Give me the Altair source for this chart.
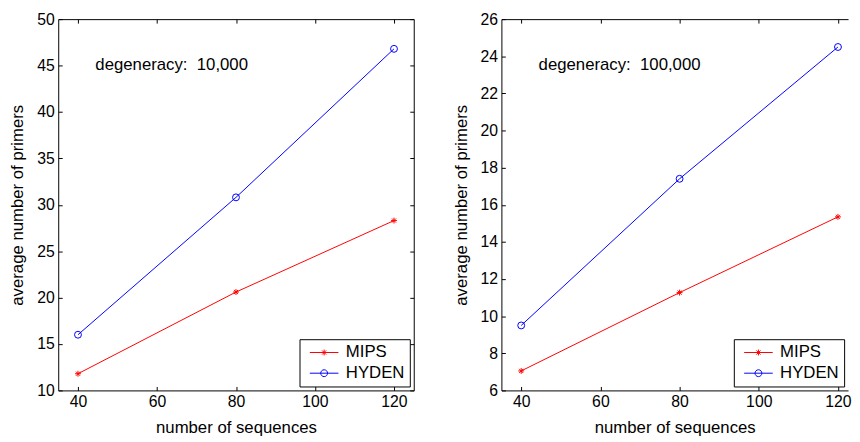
import altair as alt
import pandas as pd

# ---- data ----
sequences = [40, 80, 120]
series_names = ["MIPS", "HYDEN"]
mips_10k = [11.8, 20.6, 28.3]
hyden_10k = [16.0, 30.8, 46.8]
mips_100k = [7.05, 11.27, 15.35]
hyden_100k = [9.5, 17.4, 24.5]
x_ticks = [40, 60, 80, 100, 120]
y_ticks_10k = [10, 15, 20, 25, 30, 35, 40, 45, 50]
y_ticks_100k = [6, 8, 10, 12, 14, 16, 18, 20, 22, 24, 26]
label_10k = "degeneracy:\u00a0\u00a010,000"
label_100k = "degeneracy:\u00a0\u00a0100,000"

FONT = "Liberation Sans"
RED = "#ff0000"
BLUE = "#0000ff"

# marker shapes (custom symbol paths)
STAR = "M-1,0L1,0M0,-1L0,1M-0.7,-0.7L0.7,0.7M-0.7,0.7L0.7,-0.7"
# legend symbols: unit = 6px (symbolSize 144), line spans +-14.5px
LEG_STAR = ("M-2.42,0L2.42,0M0,-0.5L0,0.5M-0.35,-0.35L0.35,0.35"
            "M-0.35,0.35L0.35,-0.35")
LEG_CIRC = ("M-2.42,0L2.42,0M0.58,0A0.58,0.58,0,1,1,-0.58,0"
            "A0.58,0.58,0,1,1,0.58,0")

IN_TICK = alt.expr("-4")


def make_df(mips, hyden):
    rows = []
    for s, v in zip(sequences, mips):
        rows.append({"n": s, "v": v, "series": "MIPS"})
    for s, v in zip(sequences, hyden):
        rows.append({"n": s, "v": v, "series": "HYDEN"})
    return pd.DataFrame(rows)


def panel(mips, hyden, xdom, ydom, yticks, label, lab_x, lab_y, w, h, right_axis):
    df = make_df(mips, hyden)
    base = alt.Chart(df)
    xs = alt.Scale(domain=xdom, nice=False, zero=False)
    ys = alt.Scale(domain=ydom, nice=False, zero=False)
    cs = alt.Scale(domain=series_names, range=[RED, BLUE])

    common = dict(tickSize=IN_TICK, domain=True, domainColor="black",
                  domainWidth=1, grid=False, tickColor="black", tickWidth=1)

    x_main = alt.X("n:Q", scale=xs, axis=alt.Axis(
        values=x_ticks, orient="bottom", labelPadding=7,
        title="number of sequences", titlePadding=11,
        labelColor="black", titleColor="black",
        labelFont=FONT, titleFont=FONT, labelFontSize=16, titleFontSize=17,
        titleFontWeight="normal", **common))
    y_main = alt.Y("v:Q", scale=ys, axis=alt.Axis(
        values=yticks, orient="left", labelPadding=8,
        title="average number of primers", titlePadding=10,
        labelColor="black", titleColor="black", labelFont=FONT,
        titleFont=FONT, labelFontSize=16, titleFontSize=17,
        titleFontWeight="normal", **common))
    x_none = alt.X("n:Q", scale=xs, axis=None)
    y_none = alt.Y("v:Q", scale=ys, axis=None)
    x_top = alt.X("n:Q", scale=xs, axis=alt.Axis(
        values=x_ticks, orient="top", labels=False, title=None, **common))
    if right_axis:
        y_right = alt.Y("v:Q", scale=ys, axis=alt.Axis(
            values=yticks, orient="right", labels=False, title=None, **common))
    else:
        y_right = y_none

    line_m = base.transform_filter(alt.datum.series == "MIPS").mark_line(
        strokeWidth=1, color=RED).encode(x=x_main, y=y_main)
    line_h = base.transform_filter(alt.datum.series == "HYDEN").mark_line(
        strokeWidth=1, color=BLUE).encode(x=x_none, y=y_none)

    stars = base.transform_filter(alt.datum.series == "MIPS").mark_point(
        shape=STAR, size=36, filled=False, strokeWidth=1, color=RED, opacity=1
    ).encode(x=x_top, y=y_right)

    circles = base.transform_filter(alt.datum.series == "HYDEN").mark_point(
        shape="circle", size=49, filled=False, strokeWidth=1, color=BLUE, opacity=1
    ).encode(x=x_none, y=y_none)

    legend_layer = base.transform_filter("false").mark_point(
        filled=False, strokeWidth=1, opacity=1
    ).encode(
        x=x_none, y=y_none,
        color=alt.Color("series:N", scale=cs, legend=alt.Legend(
            title=None, orient="bottom-right", offset=4, strokeColor="black",
            fillColor="white", padding=5, labelFont=FONT,
            labelFontSize=17, labelColor="black", labelOffset=13.5,
            labelExpr="datum.label + '\u00a0\u00a0'",
            symbolOffset=11.5, rowPadding=3, symbolSize=144,
            symbolStrokeWidth=1)),
        shape=alt.Shape("series:N", scale=alt.Scale(
            domain=series_names, range=[LEG_STAR, LEG_CIRC])))

    text = alt.Chart(pd.DataFrame({"t": [label]})).mark_text(
        align="left", baseline="middle", font=FONT, fontSize=17, color="black"
    ).encode(
        x=alt.XDatum(lab_x, type="quantitative", scale=xs, axis=None),
        y=alt.YDatum(lab_y, type="quantitative", scale=ys, axis=None),
        text="t:N")

    return alt.layer(line_m, line_h, stars, circles, legend_layer, text).resolve_axis(
        x="independent", y="independent").properties(width=w, height=h)


left = panel(mips_10k, hyden_10k, [35, 125], [10, 50], y_ticks_10k, label_10k,
             44.4, 45.1, 361, 377, True)
right = panel(mips_100k, hyden_100k, [35, 122.55], [6, 26], y_ticks_100k, label_100k,
              44.4, 23.55, 352, 377, False)

chart = alt.hconcat(left, right, spacing=38).resolve_scale(
    color="independent", shape="independent"
).resolve_legend(color="independent", shape="independent").properties(
    padding={"left": 1, "top": 0, "right": 0, "bottom": 0},
    background="white",
).configure_view(stroke=None)

chart.save("out.html", embed_options={"renderer": "svg", "actions": False})
